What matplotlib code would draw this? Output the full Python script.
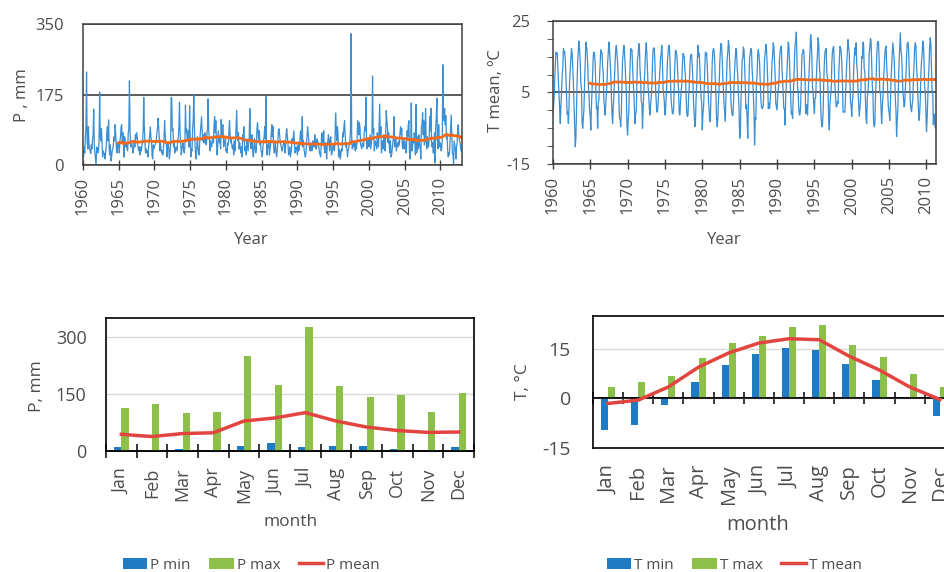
import numpy as np
import pandas as pd
import matplotlib
matplotlib.use("Agg")
import matplotlib.pyplot as plt

plt.rcParams['font.family'] = ['Open Sans', 'DejaVu Sans']
plt.rcParams['axes.unicode_minus'] = False

# monthly precipitation, mm (Jan..Dec), 1960-2012
p_rows = [
    [33, 20, 45, 30, 70, 90, 231, 60, 40, 95, 55, 40],
    [35, 28, 50, 40, 62, 75, 139, 50, 30, 15, 0, 45],
    [40, 30, 35, 60, 181, 70, 60, 90, 55, 20, 35, 30],
    [28, 15, 30, 45, 80, 95, 60, 112, 40, 25, 50, 10],
    [20, 35, 40, 50, 70, 60, 100, 75, 45, 30, 55, 45],
    [50, 30, 60, 70, 95, 100, 55, 80, 60, 20, 70, 50],
    [45, 55, 40, 35, 80, 90, 209, 85, 45, 60, 55, 40],
    [30, 40, 60, 45, 75, 65, 80, 70, 50, 40, 35, 45],
    [25, 45, 35, 50, 60, 85, 168, 90, 55, 30, 40, 30],
    [35, 20, 40, 55, 75, 95, 70, 60, 25, 15, 50, 40],
    [45, 50, 55, 60, 80, 90, 116, 95, 70, 35, 55, 40],
    [30, 35, 25, 40, 65, 110, 75, 60, 50, 20, 45, 55],
    [40, 15, 30, 50, 168, 165, 85, 90, 45, 60, 30, 35],
    [45, 40, 35, 60, 70, 95, 156, 80, 55, 25, 40, 50],
    [55, 35, 30, 45, 149, 80, 90, 60, 70, 85, 45, 147],
    [60, 20, 40, 35, 90, 110, 174, 95, 50, 30, 15, 45],
    [70, 45, 30, 25, 60, 80, 100, 120, 85, 60, 75, 55],
    [65, 80, 55, 50, 75, 90, 164, 85, 70, 35, 60, 50],
    [45, 60, 70, 55, 100, 120, 80, 110, 60, 25, 40, 85],
    [70, 55, 65, 40, 113, 75, 95, 100, 45, 50, 60, 70],
    [35, 40, 30, 55, 50, 85, 110, 70, 55, 65, 45, 40],
    [50, 25, 60, 35, 55, 95, 136, 75, 60, 80, 40, 55],
    [40, 30, 45, 20, 75, 60, 95, 50, 35, 45, 25, 60],
    [55, 35, 50, 65, 140, 70, 40, 55, 75, 30, 20, 40],
    [65, 45, 30, 40, 90, 105, 80, 60, 85, 50, 55, 35],
    [30, 20, 45, 60, 70, 95, 65, 170, 60, 25, 50, 45],
    [55, 25, 40, 50, 80, 100, 70, 95, 45, 30, 40, 60],
    [30, 20, 35, 55, 85, 90, 75, 60, 50, 45, 35, 40],
    [50, 55, 60, 30, 45, 80, 90, 70, 55, 25, 30, 45],
    [20, 30, 40, 65, 55, 70, 85, 50, 30, 40, 45, 35],
    [25, 50, 35, 40, 60, 85, 70, 55, 120, 45, 60, 40],
    [30, 20, 25, 50, 70, 95, 80, 60, 45, 35, 55, 50],
    [35, 40, 60, 55, 45, 75, 60, 40, 55, 65, 60, 45],
    [45, 30, 25, 20, 60, 80, 70, 50, 85, 40, 30, 55],
    [40, 15, 50, 60, 75, 55, 35, 65, 70, 25, 30, 40],
    [50, 45, 35, 60, 129, 90, 60, 95, 80, 20, 40, 35],
    [15, 30, 40, 35, 80, 70, 95, 110, 75, 45, 55, 40],
    [20, 35, 40, 55, 60, 85, 326, 70, 40, 50, 45, 55],
    [50, 35, 55, 40, 60, 110, 95, 75, 105, 90, 50, 45],
    [40, 55, 50, 45, 80, 95, 85, 168, 50, 40, 65, 60],
    [45, 60, 75, 40, 55, 70, 221, 80, 90, 35, 60, 50],
    [55, 40, 80, 60, 45, 100, 151, 70, 95, 30, 55, 60],
    [40, 75, 50, 35, 70, 135, 110, 95, 55, 80, 50, 30],
    [60, 20, 25, 40, 55, 65, 120, 45, 50, 70, 35, 50],
    [55, 45, 60, 50, 80, 95, 75, 90, 45, 40, 60, 40],
    [60, 50, 30, 45, 85, 70, 100, 110, 30, 15, 40, 154],
    [35, 45, 65, 55, 80, 60, 25, 150, 30, 45, 70, 40],
    [75, 50, 45, 15, 95, 100, 130, 75, 110, 50, 65, 140],
    [60, 40, 70, 50, 45, 65, 120, 85, 141, 60, 45, 55],
    [30, 55, 80, 5, 95, 120, 166, 60, 40, 100, 50, 45],
    [55, 35, 40, 60, 249, 120, 110, 140, 100, 122, 65, 75],
    [40, 20, 30, 25, 60, 90, 124, 80, 30, 25, 0, 60],
    [50, 40, 15, 45, 55, 95, 100, 70, 60, 55, 40, 35],
]

# monthly mean temperature, C (Jan..Dec), 1960 - Mar 2011
t_rows = [
    [-1.0, 0.5, 3.5, 8.5, 13.0, 16.3, 15.8, 16.0, 12.5, 8.0, 4.5, 0.5],
    [-3.7, 1.5, 5.0, 9.5, 12.0, 17.3, 16.0, 16.5, 14.0, 9.5, 4.0, -1.0],
    [-0.5, -3.7, 1.0, 8.5, 11.5, 14.5, 17.3, 16.0, 12.0, 8.0, 2.0, -3.0],
    [-10.2, -8.0, 0.5, 8.0, 14.0, 17.0, 19.4, 17.0, 13.5, 7.5, 6.0, -3.5],
    [-5.0, -2.0, 0.5, 8.0, 13.0, 19.1, 18.0, 16.5, 13.0, 7.0, 4.5, 0.0],
    [-1.5, -5.5, 1.0, 6.0, 11.0, 15.5, 16.3, 15.5, 13.0, 7.0, 0.5, 1.0],
    [-5.0, 2.0, 3.0, 9.5, 13.0, 17.0, 16.5, 16.0, 12.0, 10.5, 2.5, 1.0],
    [-1.3, 1.5, 5.0, 7.5, 13.5, 16.0, 19.1, 17.5, 14.0, 10.0, 4.5, -1.0],
    [-3.7, 1.0, 3.5, 9.0, 13.5, 17.0, 18.2, 16.0, 13.5, 9.0, 3.5, -2.0],
    [-2.5, -4.6, -0.5, 7.5, 14.0, 16.0, 18.2, 17.0, 13.0, 8.5, 5.0, -4.0],
    [-6.9, -3.0, 0.0, 6.5, 11.5, 17.3, 17.0, 17.0, 12.5, 8.0, 5.0, 0.5],
    [-3.7, -1.0, -0.5, 8.0, 14.5, 15.5, 18.7, 18.0, 11.5, 8.5, 2.5, 2.0],
    [-5.0, 0.5, 4.5, 8.0, 13.0, 16.5, 18.9, 16.0, 11.0, 6.5, 4.0, 0.5],
    [-1.3, 1.5, 3.5, 6.5, 13.0, 17.0, 17.3, 17.5, 13.0, 6.5, 2.5, -0.5],
    [-0.4, 2.0, 5.0, 8.0, 11.5, 14.5, 16.0, 18.2, 13.5, 6.0, 4.5, 2.5],
    [-1.3, 0.0, 3.5, 7.5, 13.5, 16.0, 18.2, 18.0, 15.0, 8.0, 2.5, 1.0],
    [-0.9, -1.0, 0.5, 7.5, 13.0, 16.8, 16.5, 15.5, 12.5, 8.5, 5.0, -1.0],
    [-1.3, 2.0, 5.5, 7.0, 12.5, 15.9, 15.5, 15.0, 11.5, 9.5, 4.5, -0.5],
    [-1.7, -1.5, 3.5, 6.5, 12.0, 15.0, 15.7, 15.5, 12.0, 8.0, 2.0, -1.0],
    [-4.6, -3.5, 3.0, 7.0, 14.0, 18.2, 15.0, 16.0, 12.5, 7.5, 3.5, 2.0],
    [-5.5, -1.0, 1.0, 5.5, 11.5, 16.3, 15.5, 16.0, 12.5, 7.5, 2.5, 0.0],
    [-3.2, -2.5, 4.5, 7.0, 13.5, 16.5, 17.3, 16.5, 13.5, 8.0, 3.5, -2.5],
    [-4.6, -2.0, 3.0, 6.0, 13.0, 16.5, 18.7, 18.0, 14.5, 9.0, 5.0, 1.5],
    [-0.4, -3.0, 4.0, 9.5, 14.5, 16.5, 19.6, 18.0, 13.5, 8.5, 2.5, 0.0],
    [-1.3, -1.5, 1.5, 7.0, 12.0, 14.5, 17.3, 16.5, 12.0, 9.5, 4.5, 0.5],
    [-7.8, -7.0, 1.5, 7.5, 14.0, 14.5, 17.7, 17.0, 12.5, 7.0, 0.5, 1.5],
    [-2.5, -7.8, 1.5, 8.0, 15.0, 16.0, 17.3, 17.0, 11.5, 8.5, 4.5, -0.5],
    [-9.7, -2.0, -2.5, 7.5, 10.0, 15.5, 17.0, 15.5, 13.0, 8.5, 3.5, 1.0],
    [0.5, 0.8, 1.5, 7.5, 14.5, 16.0, 18.5, 17.5, 13.5, 8.5, 0.5, 2.0],
    [0.5, 2.5, 5.5, 8.5, 13.5, 15.5, 18.9, 17.5, 13.5, 9.5, 2.0, 1.0],
    [0.1, 3.5, 6.0, 7.5, 14.5, 16.5, 17.7, 18.0, 11.5, 8.5, 4.0, 0.5],
    [0.5, -4.1, 4.0, 7.5, 10.5, 15.0, 19.1, 18.0, 14.0, 8.0, 3.5, -1.0],
    [-0.5, -2.3, 3.5, 8.0, 14.0, 18.5, 19.5, 21.9, 13.5, 6.5, 4.5, 0.5],
    [-1.3, -1.0, 1.5, 9.0, 15.5, 16.0, 17.0, 16.5, 12.5, 8.5, -1.0, 1.5],
    [1.5, -1.3, 4.5, 8.5, 12.5, 16.5, 21.2, 19.0, 14.5, 6.5, 5.0, 1.5],
    [-0.9, 3.5, 3.5, 8.5, 13.0, 16.0, 20.3, 18.5, 12.5, 10.0, 1.5, -2.5],
    [-4.6, -4.0, -0.5, 8.0, 13.0, 16.5, 16.5, 17.3, 10.5, 9.0, 5.0, -3.0],
    [-5.5, 1.5, 4.0, 6.0, 13.0, 16.5, 17.5, 17.9, 12.5, 6.5, 3.5, 1.0],
    [1.0, 2.5, 2.0, 9.5, 14.0, 17.9, 17.5, 16.5, 13.0, 8.0, -0.5, -0.5],
    [-0.4, -0.5, 4.0, 9.0, 13.5, 16.5, 19.8, 17.5, 16.0, 8.5, 2.5, 1.0],
    [-1.7, 2.5, 4.0, 11.0, 15.0, 17.5, 15.5, 18.9, 12.5, 11.0, 6.0, 2.0],
    [-1.7, 0.5, 2.5, 8.0, 15.0, 14.5, 19.1, 18.5, 11.5, 11.0, 3.0, -2.5],
    [-3.7, 3.5, 5.0, 8.5, 16.0, 17.5, 20.1, 19.5, 13.0, 7.0, 4.5, -3.0],
    [-4.6, -4.0, 3.0, 7.5, 15.0, 18.5, 19.3, 19.0, 13.5, 5.0, 5.0, 0.5],
    [-3.7, 0.5, 3.5, 8.5, 11.5, 15.5, 17.3, 18.0, 13.0, 9.5, 3.5, 0.5],
    [-0.5, -2.8, 1.0, 8.5, 12.5, 16.0, 18.9, 16.5, 14.5, 9.5, 3.0, 0.0],
    [-7.3, -3.0, 0.0, 8.0, 13.5, 17.5, 21.7, 16.5, 15.5, 11.0, 6.0, 3.5],
    [1.0, 1.5, 6.0, 9.5, 15.0, 18.5, 19.1, 18.0, 12.5, 7.5, 2.5, 0.5],
    [-0.4, 1.5, 3.0, 8.5, 13.0, 17.5, 18.9, 18.0, 12.5, 9.0, 4.5, 0.5],
    [-2.8, -1.0, 3.0, 10.5, 13.5, 15.5, 19.4, 18.5, 14.5, 6.5, 5.5, -0.5],
    [-6.0, -2.5, 3.0, 8.5, 12.0, 17.5, 20.3, 18.5, 12.0, 5.5, 5.5, -4.0],
    [-1.0, -2.5, -4.9],
]

months = ['Jan', 'Feb', 'Mar', 'Apr', 'May', 'Jun',
          'Jul', 'Aug', 'Sep', 'Oct', 'Nov', 'Dec']
p_min = [11.5, 3, 6, 0, 13, 22, 11.5, 13, 13, 5, 0, 10.5]
p_max = [112, 125, 100, 102, 249, 173, 326, 170, 141, 148, 102, 154]
p_mean = [44, 38, 46, 48, 79, 87, 101, 79, 63, 54, 49, 50]
t_min = [-9.7, -7.9, -2.0, 5.1, 10.0, 13.6, 15.3, 14.8, 10.3, 5.5, 0.0, -5.4]
t_max = [3.5, 4.9, 6.8, 12.3, 16.7, 19.0, 21.8, 22.2, 16.3, 12.5, 7.5, 3.5]
t_mean = [-1.5, -0.5, 3.5, 9.5, 13.8, 16.8, 18.1, 17.8, 12.8, 8.6, 3.5, -0.3]

ts_blue = '#3b8fd2'
ma_orange = '#f26b1d'
bar_blue = '#1f7bc4'
bar_green = '#8dc04b'
red = '#e2453f'
frame = '#404040'
txt = '#4d4d4d'

p = pd.Series(sum(p_rows, []), dtype=float)
t = pd.Series(sum(t_rows, []), dtype=float)
p_year = 1960 + np.arange(len(p)) / 12
t_year = 1960 + np.arange(len(t)) / 12
# 5-year (60 month) running mean
p_ma = p.rolling(60).mean()
t_ma = t.rolling(60).mean()

W, H = 945, 572
fig = plt.figure(figsize=(W / 100, H / 100), dpi=100)


def label_at(px, py, s, size, rot=0):
    # axis title centred on a pixel position of the figure
    fig.text(px / W, 1 - py / H, s, ha='center', va='center', rotation=rot,
             rotation_mode='anchor', fontsize=size, color=txt)


def zero_ticks(ax, length):
    # tick marks between the month categories, sitting on the y=0 line
    lo, hi = ax.get_ylim()
    sec = ax.secondary_xaxis((0 - lo) / (hi - lo))
    sec.set_xticks(np.arange(13) - 0.5)
    sec.set_xticklabels([])
    sec.tick_params(direction='inout', length=length, width=1.1, color='black')
    for s in sec.spines.values():
        s.set_color('black')
        s.set_linewidth(1.2)


# ---- top left: precipitation series
ax1 = fig.add_axes([0.0878, 0.7115, 0.401, 0.2465])
ax1.plot(p_year, p, color=ts_blue, lw=0.9)
ax1.plot(p_year, p_ma, color=ma_orange, lw=2)
ax1.set_xlim(1960, 2013)
ax1.set_ylim(0, 350)
ax1.set_yticks([0, 175, 350])
ax1.set_xticks(range(1960, 2011, 5))
ax1.grid(axis='y', color=frame, lw=1.2)
ax1.set_axisbelow(True)
ax1.tick_params(axis='x', direction='inout', length=7.5, width=1, color=frame,
                labelrotation=90, pad=5, labelsize=12, labelcolor=txt)
ax1.tick_params(axis='y', length=0, pad=14, labelsize=12, labelcolor=txt)
label_at(251, 240, 'Year', 12)
label_at(22, 95, 'P , mm', 12, 90)

# ---- top right: temperature series
ax2 = fig.add_axes([0.585, 0.7133, 0.4053, 0.25])
ax2.plot(t_year, t, color=ts_blue, lw=0.9)
ax2.plot(t_year, t_ma, color=ma_orange, lw=2)
ax2.set_xlim(1960, 2011.25)
ax2.set_ylim(-15, 25)
ax2.set_yticks([-15, 5, 25])
ax2.set_yticks(range(-15, 26, 5), minor=True)
ax2.set_xticks(range(1960, 2011, 5))
ax2.grid(axis='y', which='major', color=frame, lw=1.2)
ax2.set_axisbelow(True)
ax2.tick_params(axis='x', direction='inout', length=7.5, width=1, color=frame,
                labelrotation=90, pad=5, labelsize=12, labelcolor=txt)
ax2.tick_params(axis='y', which='both', direction='out', length=4, color=frame,
                pad=12, labelsize=12, labelcolor=txt)
label_at(724, 240, 'Year', 12)
label_at(496, 91, 'T mean, ºC', 12, 90)

for ax in (ax1, ax2):
    for s in ax.spines.values():
        s.set_color(frame)
        s.set_linewidth(1.1)

x = np.arange(12)
w = 0.235

# ---- bottom left: precipitation by month
ax3 = fig.add_axes([0.1122, 0.2115, 0.3894, 0.2325])
b1 = ax3.bar(x - w / 2, p_min, width=w, color=bar_blue, zorder=2)
b2 = ax3.bar(x + w / 2, p_max, width=w, color=bar_green, zorder=2)
l1, = ax3.plot(x, p_mean, color=red, lw=2.5, zorder=3)
ax3.set_xlim(-0.5, 11.5)
ax3.set_ylim(0, 350)
ax3.set_yticks([0, 150, 300])
ax3.grid(axis='y', color='#d9d9d9', lw=1)
ax3.set_axisbelow(True)
ax3.set_xticks(x)
ax3.set_xticklabels(months, rotation=90)
ax3.tick_params(axis='x', length=0, pad=12, labelsize=13, labelcolor=txt)
ax3.tick_params(axis='y', length=0, pad=14, labelsize=13, labelcolor=txt)
label_at(291, 522, 'month', 12.5)
label_at(37, 386, 'P, mm', 12.5, 90)
zero_ticks(ax3, 10)
ax3.legend([b1, b2, l1], ['P min', 'P max', 'P mean'], loc='center',
           bbox_to_anchor=(0.266, 0.012), bbox_transform=fig.transFigure,
           ncol=3, frameon=False, fontsize=11, handlelength=1.6, handletextpad=0.2,
           columnspacing=1.2, labelcolor=txt)

# ---- bottom right: temperature by month
ax4 = fig.add_axes([0.6275, 0.2168, 0.383, 0.2308])
b3 = ax4.bar(x - w / 2, t_min, width=w, color=bar_blue, zorder=2)
b4 = ax4.bar(x + w / 2, t_max, width=w, color=bar_green, zorder=2)
l2, = ax4.plot(x, t_mean, color=red, lw=2.5, zorder=4)
ax4.axhline(0, color='black', lw=1.2, zorder=3)
ax4.set_xlim(-0.5, 11.5)
ax4.set_ylim(-15, 25)
ax4.set_yticks([-15, 0, 15])
ax4.grid(axis='y', color='#d9d9d9', lw=1)
ax4.set_axisbelow(True)
ax4.set_xticks(x)
ax4.set_xticklabels(months, rotation=90)
ax4.tick_params(axis='x', length=0, pad=12, labelsize=14.5, labelcolor=txt)
ax4.tick_params(axis='y', length=0, pad=16, labelsize=14, labelcolor=txt)
label_at(758, 525, 'month', 14.5)
label_at(523, 382, 'T, °C', 12.5, 90)
zero_ticks(ax4, 9)
ax4.legend([b3, b4, l2], ['T min', 'T max', 'T mean'], loc='center',
           bbox_to_anchor=(0.777, 0.012), bbox_transform=fig.transFigure,
           ncol=3, frameon=False, fontsize=11, handlelength=1.6, handletextpad=0.2,
           columnspacing=1.2, labelcolor=txt)

for ax in (ax3, ax4):
    for s in ax.spines.values():
        s.set_color('black')
        s.set_linewidth(1.2)

fig.savefig('out.png', dpi=100)
